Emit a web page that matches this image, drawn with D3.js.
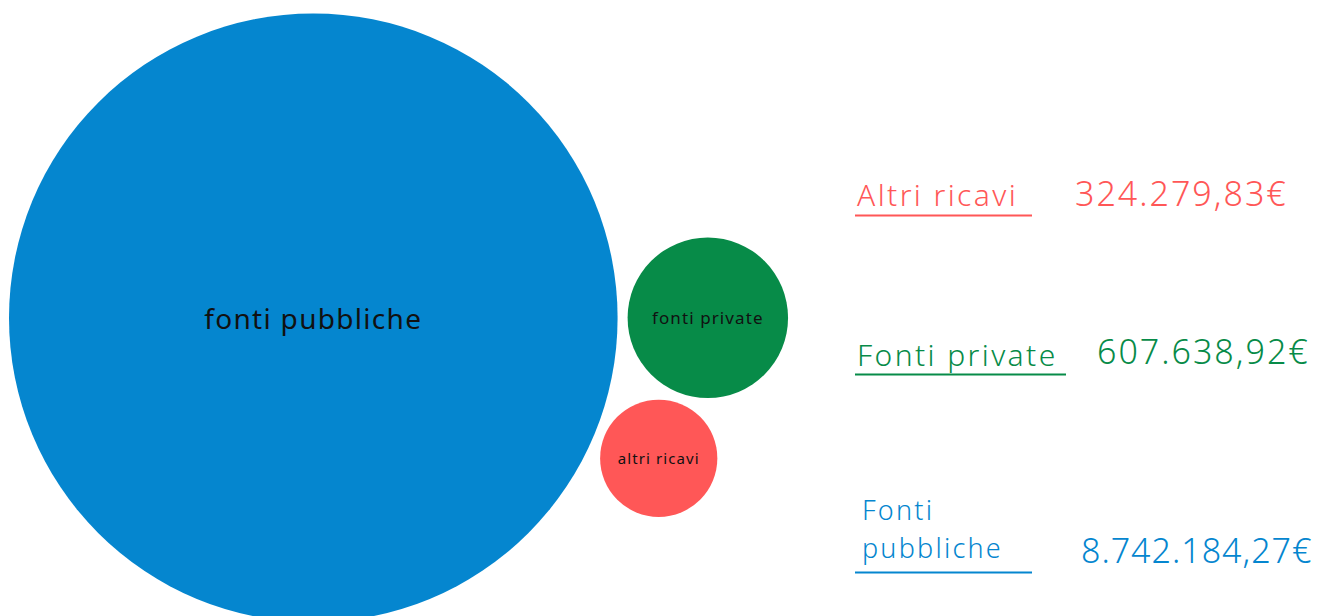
<!DOCTYPE html>
<html>
<head>
<meta charset="utf-8">
<script src="https://cdn.jsdelivr.net/npm/d3@7"></script>
<style>
  html, body { margin: 0; padding: 0; background: #ffffff; }
  svg { display: block; }
  text { font-family: "Noto Sans", "DejaVu Sans", sans-serif; }
</style>
</head>
<body>
<svg id="chart" width="1320" height="616"></svg>
<script>
// ---- data ----
const categories = ["fonti pubbliche", "fonti private", "altri ricavi"];
const values = [8742184.27, 607638.92, 324279.83];
const legendLabels = [["Fonti", "pubbliche"], ["Fonti private"], ["Altri ricavi"]];
const valueLabels = ["8.742.184,27€", "607.638,92€", "324.279,83€"];
const colors = ["#0586CF", "#078B48", "#FF5757"];

// ---- layout ----
const svg = d3.select("#chart");
const r = d3.scaleSqrt().domain([0, d3.max(values)]).range([0, 304.3]);
const gap = 10;
const center = { x: 313.3, y: 317.8 };

const nodes = categories.map((c, i) => ({ name: c, value: values[i], r: r(values[i]), color: colors[i] }));
// biggest at centre, second to the right, third tangent to both (below)
const [A, B, C] = nodes;
A.x = center.x; A.y = center.y;
const dAB = A.r + B.r + gap, dAC = A.r + C.r + gap, dBC = B.r + C.r + gap;
B.x = A.x + dAB; B.y = A.y;
const cosT = (dAB * dAB + dAC * dAC - dBC * dBC) / (2 * dAB * dAC);
const theta = Math.acos(cosT);
C.x = A.x + dAC * Math.cos(theta); C.y = A.y + dAC * Math.sin(theta);

const g = svg.append("g");
g.selectAll("circle").data(nodes).join("circle")
  .attr("cx", d => d.x).attr("cy", d => d.y).attr("r", d => d.r)
  .attr("fill", d => d.color);

const labelSize = d => d.r > 200 ? 28 : (d.r > 70 ? 17 : 15);
g.selectAll("text.lab").data(nodes).join("text")
  .attr("class", "lab")
  .attr("x", d => d.x).attr("y", d => d.y)
  .attr("text-anchor", "middle")
  .attr("dominant-baseline", "central")
  .attr("font-size", labelSize)
  .attr("letter-spacing", d => d.r > 200 ? 1.3 : 1.1)
  .attr("fill", "#111")
  .text(d => d.name);

// ---- legend ----
const legendRows = [
  { idx: 2, baseline: 206, underline: 215.5, lineEnd: 1032, valX: 1075, valY: 206 },
  { idx: 1, baseline: 366, underline: 374.5, lineEnd: 1066, valX: 1097, valY: 364 },
  { idx: 0, baseline: 520, underline: 572.5, lineEnd: 1032, valX: 1081, valY: 563 }
];
const lg = svg.append("g");
legendRows.forEach(row => {
  const col = colors[row.idx];
  const lines = legendLabels[row.idx];
  const multi = lines.length > 1;
  const fs = multi ? 27 : 30;
  lines.forEach((line, k) => {
    lg.append("text")
      .attr("x", 857 + (multi ? 5 : 0))
      .attr("y", row.baseline + k * 37.5)
      .attr("font-size", fs)
      .attr("font-weight", 300)
      .attr("letter-spacing", multi ? 2.2 : 2.4)
      .attr("fill", col)
      .text(line);
  });
  lg.append("line")
    .attr("x1", 855).attr("x2", row.lineEnd)
    .attr("y1", row.underline).attr("y2", row.underline)
    .attr("stroke", col).attr("stroke-width", 2);
  lg.append("text")
    .attr("x", row.valX).attr("y", row.valY)
    .attr("font-size", 34)
    .attr("font-weight", 300)
    .attr("letter-spacing", row.idx === 0 ? 1.0 : 2.0)
    .attr("fill", col)
    .text(valueLabels[row.idx]);
});
</script>
</body>
</html>
